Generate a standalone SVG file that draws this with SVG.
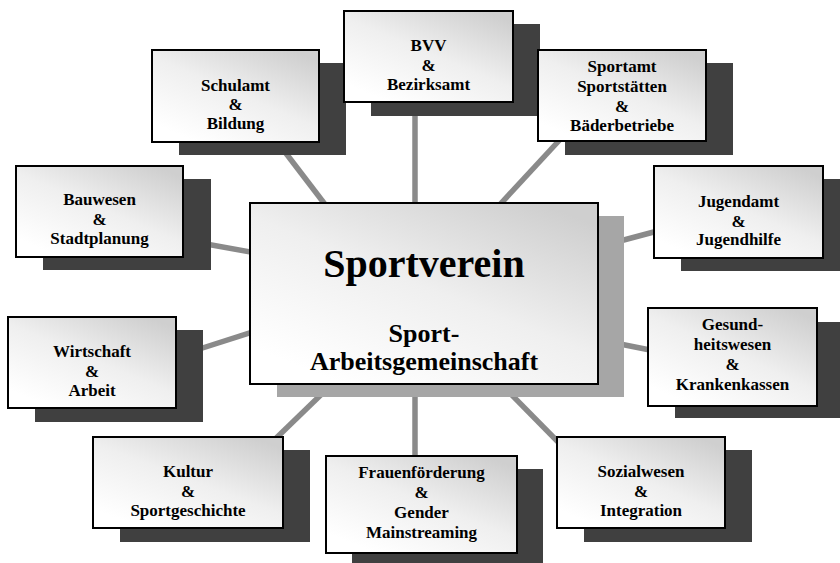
<svg xmlns="http://www.w3.org/2000/svg" width="840" height="563" viewBox="0 0 840 563">
<defs>
<linearGradient id="g" x1="0.9" y1="0.05" x2="0.2" y2="0.95">
<stop offset="0" stop-color="#cfcfcf"/>
<stop offset="0.5" stop-color="#efefef"/>
<stop offset="1" stop-color="#ffffff"/>
</linearGradient>
<style>
.sh{fill:#404040}
.bx{fill:url(#g);stroke:#000;stroke-width:2}
.t{font-family:"Liberation Serif","Times New Roman",serif;font-weight:bold;font-size:17px;text-anchor:middle;fill:#000}
.tc{font-family:"Liberation Serif","Times New Roman",serif;font-weight:bold;text-anchor:middle;fill:#000}
.c{stroke:#8a8a8a;stroke-width:5.5;fill:none}
</style>
</defs>
<rect width="840" height="563" fill="#fff"/>
<g id="connectors">
<line class="c" x1="272" y1="135" x2="340" y2="224"/>
<line class="c" x1="415" y1="100" x2="415" y2="210"/>
<line class="c" x1="567" y1="132" x2="493" y2="212"/>
<line class="c" x1="605" y1="245" x2="665" y2="229"/>
<line class="c" x1="195" y1="242" x2="262" y2="254"/>
<line class="c" x1="190" y1="352" x2="262" y2="329"/>
<line class="c" x1="268" y1="446" x2="330" y2="386"/>
<line class="c" x1="415" y1="390" x2="415" y2="470"/>
<line class="c" x1="505" y1="388" x2="567" y2="451"/>
<line class="c" x1="610" y1="342" x2="660" y2="352"/>
</g>
<g id="center">
<rect x="277" y="216" width="347" height="181" fill="#a6a6a6"/>
<rect class="bx" x="250" y="203" width="348" height="181"/>
<text class="tc" x="424" y="277" font-size="40">Sportverein</text>
<text class="tc" x="424" y="342" font-size="26">Sport-</text>
<text class="tc" x="424" y="370" font-size="26">Arbeitsgemeinschaft</text>
</g>
<g id="schulamt">
<rect class="sh" x="179" y="63" width="167" height="92"/>
<rect class="bx" x="152" y="50" width="167" height="92"/>
<text class="t" x="235.5" y="90.5">Schulamt</text>
<text class="t" x="235.5" y="110">&amp;</text>
<text class="t" x="235.5" y="128.5">Bildung</text>
</g>
<g id="bvv">
<rect class="sh" x="371" y="24" width="169" height="92"/>
<rect class="bx" x="344" y="11" width="169" height="91"/>
<text class="t" x="428.5" y="51">BVV</text>
<text class="t" x="428.5" y="71">&amp;</text>
<text class="t" x="428.5" y="90">Bezirksamt</text>
</g>
<g id="sportamt">
<rect class="sh" x="565" y="63" width="168" height="92"/>
<rect class="bx" x="538" y="50" width="168" height="91"/>
<text class="t" x="622" y="72">Sportamt</text>
<text class="t" x="622" y="92">Sportstätten</text>
<text class="t" x="622" y="112">&amp;</text>
<text class="t" x="622" y="131">Bäderbetriebe</text>
</g>
<g id="jugendamt">
<rect class="sh" x="681" y="179" width="169" height="92"/>
<rect class="bx" x="654" y="166" width="169" height="92"/>
<text class="t" x="738.5" y="207">Jugendamt</text>
<text class="t" x="738.5" y="227">&amp;</text>
<text class="t" x="738.5" y="245">Jugendhilfe</text>
</g>
<g id="bauwesen">
<rect class="sh" x="43" y="179" width="168" height="91"/>
<rect class="bx" x="16" y="166" width="167" height="91"/>
<text class="t" x="99.5" y="205">Bauwesen</text>
<text class="t" x="99.5" y="225">&amp;</text>
<text class="t" x="99.5" y="244">Stadtplanung</text>
</g>
<g id="wirtschaft">
<rect class="sh" x="35" y="330" width="168" height="92"/>
<rect class="bx" x="8" y="317" width="168" height="91"/>
<text class="t" x="92" y="357">Wirtschaft</text>
<text class="t" x="92" y="377">&amp;</text>
<text class="t" x="92" y="396">Arbeit</text>
</g>
<g id="gesundheit">
<rect class="sh" x="675" y="322" width="169" height="96"/>
<rect class="bx" x="648" y="308" width="169" height="98"/>
<text class="t" x="732.5" y="330">Gesund-</text>
<text class="t" x="732.5" y="350">heitswesen</text>
<text class="t" x="732.5" y="370">&amp;</text>
<text class="t" x="732.5" y="390">Krankenkassen</text>
</g>
<g id="kultur">
<rect class="sh" x="120" y="450" width="190" height="92"/>
<rect class="bx" x="93" y="437" width="190" height="91"/>
<text class="t" x="188" y="477">Kultur</text>
<text class="t" x="188" y="497">&amp;</text>
<text class="t" x="188" y="516">Sportgeschichte</text>
</g>
<g id="frauen">
<rect class="sh" x="352" y="469" width="191" height="100"/>
<rect class="bx" x="326" y="456" width="191" height="97"/>
<text class="t" x="421.5" y="478">Frauenförderung</text>
<text class="t" x="421.5" y="498">&amp;</text>
<text class="t" x="421.5" y="518">Gender</text>
<text class="t" x="421.5" y="538">Mainstreaming</text>
</g>
<g id="sozialwesen">
<rect class="sh" x="584" y="450" width="168" height="92"/>
<rect class="bx" x="557" y="437" width="168" height="91"/>
<text class="t" x="641" y="477">Sozialwesen</text>
<text class="t" x="641" y="497">&amp;</text>
<text class="t" x="641" y="516">Integration</text>
</g>
</svg>
